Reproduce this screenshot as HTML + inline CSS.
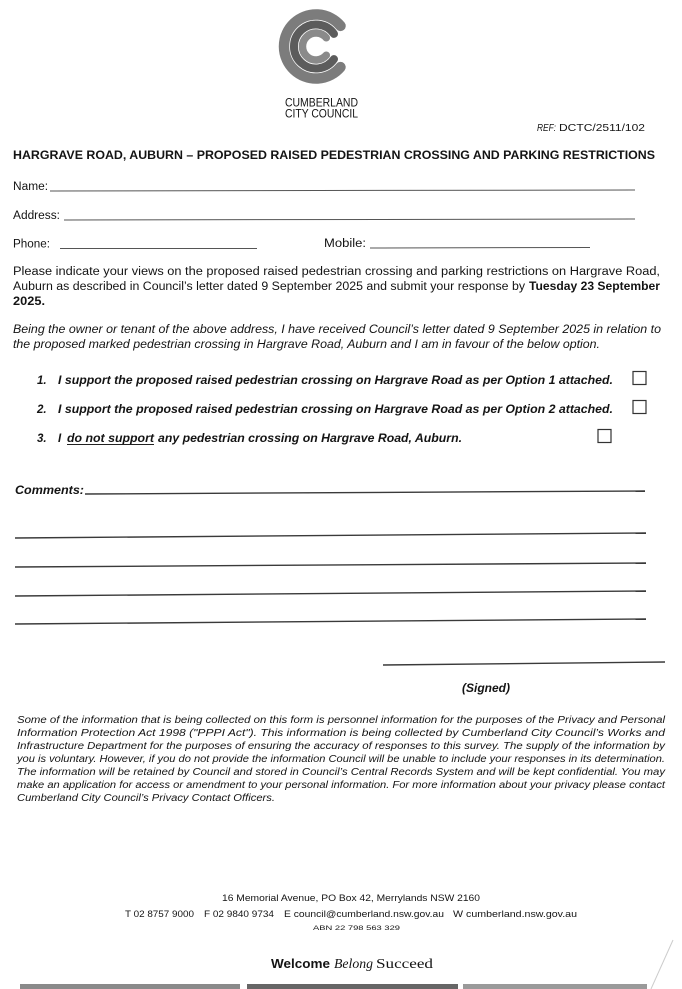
<!DOCTYPE html>
<html><head><meta charset="utf-8"><style>
html,body{margin:0;padding:0;background:#fff;}
svg{display:block;}
text{font-family:"Liberation Sans",Arial,sans-serif;fill:#141414;}
.b{font-weight:bold;}
.i{font-style:italic;}
.s{font-family:"Liberation Serif",serif;}
</style></head><body>
<svg width="682" height="989" viewBox="0 0 682 989" xmlns="http://www.w3.org/2000/svg">
<rect width="682" height="989" fill="#fff"/>
<!-- logo -->
<g fill="none" stroke-linecap="round">
<path d="M340.5 25.9 A32 32 0 1 0 340.5 67.1" stroke="#7c7c7c" stroke-width="10.5"/>
<path d="M334 33.9 A22 22 0 1 0 334 59.1" stroke="#5c5c5c" stroke-width="8"/>
<path d="M326.3 37.8 A13.5 13.5 0 1 0 326.3 55.2" stroke="#8a8a8a" stroke-width="7.5"/>
</g>
<text x="285" y="106.5" font-size="11.5" textLength="73" lengthAdjust="spacingAndGlyphs" fill="#333">CUMBERLAND</text>
<text x="285" y="117.5" font-size="11.5" textLength="73" lengthAdjust="spacingAndGlyphs" fill="#333">CITY COUNCIL</text>
<text x="537" y="131" font-size="10" class="i" textLength="19" lengthAdjust="spacingAndGlyphs">REF:</text>
<text x="559" y="131" font-size="10.5" textLength="86" lengthAdjust="spacingAndGlyphs">DCTC/2511/102</text>
<text x="13" y="159" font-size="11.5" class="b" textLength="642" lengthAdjust="spacingAndGlyphs">HARGRAVE ROAD, AUBURN – PROPOSED RAISED PEDESTRIAN CROSSING AND PARKING RESTRICTIONS</text>
<!-- name/address/phone -->
<g stroke="#555" stroke-width="1">
<line x1="50" y1="191" x2="635" y2="190"/>
<line x1="64" y1="220" x2="635" y2="219"/>
<line x1="60" y1="248.5" x2="257" y2="248.5"/>
<line x1="370" y1="248" x2="590" y2="247.5"/>
</g>
<text x="13" y="190" font-size="11.5" textLength="35" lengthAdjust="spacingAndGlyphs">Name:</text>
<text x="13" y="219" font-size="11.5" textLength="47" lengthAdjust="spacingAndGlyphs">Address:</text>
<text x="13" y="247.5" font-size="11.5" textLength="37" lengthAdjust="spacingAndGlyphs">Phone:</text>
<text x="324" y="247" font-size="11.5" textLength="42" lengthAdjust="spacingAndGlyphs">Mobile:</text>
<!-- paragraph 1 -->
<text x="13" y="275" font-size="11.5" textLength="647" lengthAdjust="spacingAndGlyphs">Please indicate your views on the proposed raised pedestrian crossing and parking restrictions on Hargrave Road,</text>
<text x="13" y="290" font-size="11.5" textLength="512" lengthAdjust="spacingAndGlyphs">Auburn as described in Council’s letter dated 9 September 2025 and submit your response by</text>
<text x="529" y="290" font-size="11.5" class="b" textLength="131" lengthAdjust="spacingAndGlyphs">Tuesday 23 September</text>
<text x="13" y="305" font-size="11.5" class="b" textLength="32" lengthAdjust="spacingAndGlyphs">2025.</text>
<!-- paragraph 2 -->
<text x="13" y="333" font-size="11.5" class="i" textLength="648" lengthAdjust="spacingAndGlyphs">Being the owner or tenant of the above address, I have received Council’s letter dated 9 September 2025 in relation to</text>
<text x="13" y="348" font-size="11.5" class="i" textLength="587" lengthAdjust="spacingAndGlyphs">the proposed marked pedestrian crossing in Hargrave Road, Auburn and I am in favour of the below option.</text>
<!-- options -->
<text x="37" y="384" font-size="11.5" class="b i">1.</text>
<text x="58" y="384" font-size="11.5" class="b i" textLength="555" lengthAdjust="spacingAndGlyphs">I support the proposed raised pedestrian crossing on Hargrave Road as per Option 1 attached.</text>
<text x="37" y="413" font-size="11.5" class="b i">2.</text>
<text x="58" y="413" font-size="11.5" class="b i" textLength="555" lengthAdjust="spacingAndGlyphs">I support the proposed raised pedestrian crossing on Hargrave Road as per Option 2 attached.</text>
<text x="37" y="442" font-size="11.5" class="b i">3.</text>
<text x="58" y="442" font-size="11.5" class="b i">I</text>
<text x="67" y="442" font-size="11.5" class="b i" textLength="87" lengthAdjust="spacingAndGlyphs">do not support</text>
<line x1="67" y1="444.5" x2="154" y2="444.5" stroke="#222" stroke-width="1"/>
<text x="158" y="442" font-size="11.5" class="b i" textLength="304" lengthAdjust="spacingAndGlyphs">any pedestrian crossing on Hargrave Road, Auburn.</text>
<g fill="none" stroke="#333" stroke-width="1.2">
<rect x="633" y="371.5" width="13" height="13"/>
<rect x="633" y="400.5" width="13" height="13"/>
<rect x="598" y="429.5" width="13" height="13"/>
</g>
<!-- comments -->
<text x="15" y="494" font-size="11.5" class="b i" textLength="69" lengthAdjust="spacingAndGlyphs">Comments:</text>
<g stroke="#3a3a3a" stroke-width="1.4">
<line x1="85" y1="494" x2="645" y2="491"/>
<line x1="15" y1="538" x2="646" y2="533"/>
<line x1="15" y1="567" x2="646" y2="563"/>
<line x1="15" y1="596" x2="646" y2="591"/>
<line x1="15" y1="624" x2="646" y2="619"/>
<line x1="383" y1="665" x2="665" y2="662"/>
</g>
<text x="462" y="692" font-size="11.5" class="b i" textLength="48" lengthAdjust="spacingAndGlyphs">(Signed)</text>
<!-- privacy -->
<text x="17" y="723" class="i" font-size="9.8" textLength="648" lengthAdjust="spacingAndGlyphs">Some of the information that is being collected on this form is personnel information for the purposes of the Privacy and Personal</text>
<text x="17" y="736" class="i" font-size="9.8" textLength="648" lengthAdjust="spacingAndGlyphs">Information Protection Act 1998 ("PPPI Act"). This information is being collected by Cumberland City Council’s Works and</text>
<text x="17" y="749" class="i" font-size="9.8" textLength="648" lengthAdjust="spacingAndGlyphs">Infrastructure Department for the purposes of ensuring the accuracy of responses to this survey. The supply of the information by</text>
<text x="17" y="762" class="i" font-size="9.8" textLength="648" lengthAdjust="spacingAndGlyphs">you is voluntary. However, if you do not provide the information Council will be unable to include your responses in its determination.</text>
<text x="17" y="775" class="i" font-size="9.8" textLength="648" lengthAdjust="spacingAndGlyphs">The information will be retained by Council and stored in Council’s Central Records System and will be kept confidential. You may</text>
<text x="17" y="788" class="i" font-size="9.8" textLength="648" lengthAdjust="spacingAndGlyphs">make an application for access or amendment to your personal information. For more information about your privacy please contact</text>
<text x="17" y="801" class="i" font-size="9.8" textLength="258" lengthAdjust="spacingAndGlyphs">Cumberland City Council’s Privacy Contact Officers.</text>
<!-- footer -->
<text x="222" y="901" font-size="9.5" fill="#333" textLength="258" lengthAdjust="spacingAndGlyphs">16 Memorial Avenue, PO Box 42, Merrylands NSW 2160</text>
<text x="125" y="917" font-size="9.5" fill="#333" textLength="69" lengthAdjust="spacingAndGlyphs">T 02 8757 9000</text>
<text x="204" y="917" font-size="9.5" fill="#333" textLength="70" lengthAdjust="spacingAndGlyphs">F 02 9840 9734</text>
<text x="284" y="917" font-size="9.5" fill="#333" textLength="160" lengthAdjust="spacingAndGlyphs">E council@cumberland.nsw.gov.au</text>
<text x="453" y="917" font-size="9.5" fill="#333" textLength="124" lengthAdjust="spacingAndGlyphs">W cumberland.nsw.gov.au</text>
<text x="313" y="930" font-size="6" fill="#333" textLength="87" lengthAdjust="spacingAndGlyphs">ABN 22 798 563 329</text>
<text x="271" y="968" font-size="13" class="b" textLength="59" lengthAdjust="spacingAndGlyphs">Welcome</text>
<text x="334" y="968" font-size="13.5" class="s i" fill="#333" textLength="39" lengthAdjust="spacingAndGlyphs">Belong</text>
<text x="376" y="968" font-size="13.5" class="s" fill="#333" textLength="57" lengthAdjust="spacingAndGlyphs">Succeed</text>
<rect x="20" y="984" width="220" height="5" fill="#8a8a8a"/>
<rect x="247" y="984" width="211" height="5" fill="#666"/>
<rect x="463" y="984" width="184" height="5" fill="#9a9a9a"/>
<line x1="673" y1="940" x2="651" y2="989" stroke="#ccc" stroke-width="1"/>
</svg>
</body></html>
